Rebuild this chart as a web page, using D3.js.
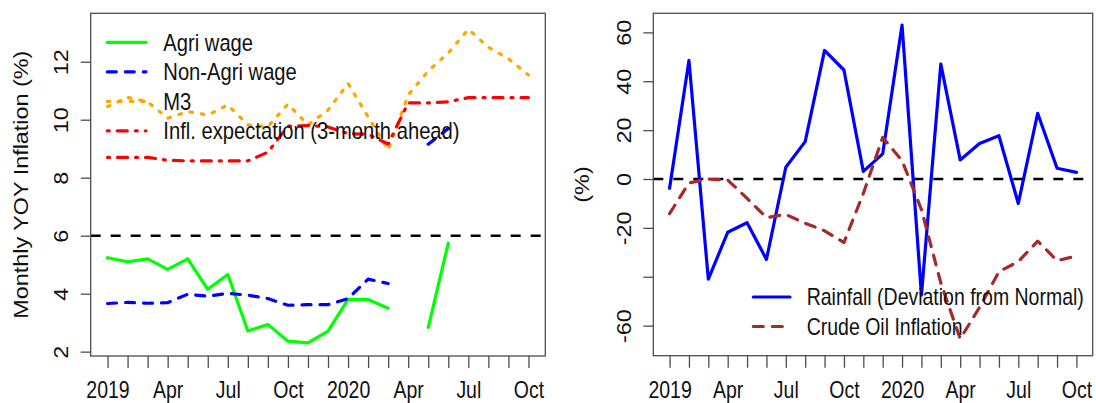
<!DOCTYPE html>
<html>
<head>
<meta charset="utf-8">
<script src="https://cdn.jsdelivr.net/npm/d3@7"></script>
<style>
  body { margin: 0; background: #fff; }
  svg text { font-family: "Liberation Sans", Arial, sans-serif; font-size: 19.5px; fill: #111; }
</style>
</head>
<body>
<svg id="chart" width="1096" height="403"></svg>
<script>
'use strict';

// Jan 2019 .. Oct 2020
const months = ['Jan 2019', 'Feb 2019', 'Mar 2019', 'Apr 2019', 'May 2019', 'Jun 2019', 'Jul 2019', 'Aug 2019',
    'Sep 2019', 'Oct 2019', 'Nov 2019', 'Dec 2019', 'Jan 2020', 'Feb 2020', 'Mar 2020', 'Apr 2020', 'May 2020',
    'Jun 2020', 'Jul 2020', 'Aug 2020', 'Sep 2020', 'Oct 2020'];
const monthLabels = ['2019', '', '', 'Apr', '', '', 'Jul', '', '', 'Oct', '', '', '2020', '', '', 'Apr', '', '',
    'Jul', '', '', 'Oct'];

// left panel
const agriWage = [5.24, 5.10, 5.20, 4.84, 5.20, 4.15, 4.66, 2.71, 2.94, 2.36, 2.30, 2.71, 3.80, 3.80, 3.50, null,
    2.84, 5.74, null, null, null, null];
const nonAgriWage = [3.66, 3.70, 3.67, 3.69, 3.98, 3.91, 4.01, 3.95, 3.83, 3.60, 3.62, 3.62, 3.83, 4.50, 4.35, null,
    9.15, 9.70, null, null, null, null];
const m3 = [10.45, 10.77, 10.62, 10.05, 10.28, 10.16, 10.51, 9.82, 9.76, 10.54, 9.82, 10.33, 11.25, 10.10, 8.95,
    10.85, 11.68, 12.30, 13.12, 12.50, 12.10, 11.54];
const inflExpectation = [8.70, 8.70, 8.70, 8.60, 8.58, 8.58, 8.58, 8.58, 8.88, 9.78, 9.80, 9.75, 9.52, 9.50, 9.16,
    10.58, 10.58, 10.62, 10.76, 10.76, 10.76, 10.76];
const leftYTicks = [2, 4, 6, 8, 10, 12];
const leftYLabels = ['2', '4', '6', '8', '10', '12'];

// right panel
const rainfall = [-3.8, 48.5, -41.0, -21.8, -17.9, -32.9, 4.8, 15.3, 52.6, 44.6, 3.1, 10.3, 63.0, -47.5, 47.0, 7.8,
    14.5, 17.7, -10.0, 26.9, 4.4, 2.7];
const crudeOil = [-14.2, -1.6, 0, -0.4, -7.9, -15.8, -14.5, -18.1, -21.2, -26.0, -5.9, 17.0, 7.5, -12.5, -42.5,
    -65.4, -52.5, -37.9, -33.8, -25.4, -33.4, -31.5];
const rightYTicks = [-60, -40, -20, 0, 20, 40, 60];
const rightYLabels = ['-60', '', '-20', '0', '20', '40', '60'];

const K = 1.2; // glyphs in the reference are stretched vertically
const svg = d3.select('#chart');

function drawPanel(p)
{
    const x = d3.scaleLinear().domain([-0.84, months.length - 1 + 0.84]).range([p.left, p.right]);
    const y = d3.scaleLinear().domain(p.yDomain).range([p.bottom, p.top]);
    const g = svg.append('g');

    g.append('clipPath').attr('id', p.id + '-clip')
        .append('rect')
        .attr('x', p.left).attr('y', p.top)
        .attr('width', p.right - p.left).attr('height', p.bottom - p.top);

    const plot = g.append('g').attr('clip-path', 'url(#' + p.id + '-clip)');

    plot.append('line')
        .attr('x1', p.left).attr('x2', p.right)
        .attr('y1', y(p.refLine)).attr('y2', y(p.refLine))
        .attr('stroke', '#000').attr('stroke-width', 2.5)
        .attr('stroke-dasharray', '10,10');

    for (const s of p.series)
    {
        const line = d3.line()
            .defined((d) => d != null)
            .x((d, i) => x(i))
            .y((d) => y(d));
        plot.append('path')
            .attr('d', line(s.values))
            .attr('fill', 'none')
            .attr('stroke', s.color).attr('stroke-width', 3.2)
            .attr('stroke-linecap', 'round').attr('stroke-linejoin', 'round')
            .attr('stroke-dasharray', s.dash);
    }

    // axes
    const xAxis = g.append('g')
        .attr('transform', 'translate(0,' + p.bottom + ')')
        .attr('color', '#4d4d4d')
        .call(d3.axisBottom(x).tickValues(d3.range(months.length)).tickSize(12)
            .tickFormat((i) => monthLabels[i]));
    xAxis.select('.domain').remove();
    xAxis.selectAll('line').attr('stroke-width', 1.3);
    xAxis.selectAll('text')
        .attr('y', null).attr('dy', null)
        .attr('text-anchor', 'middle')
        .attr('transform', 'translate(0,' + (397.5 - p.bottom) + ') scale(1,' + K + ')');

    const yAxis = g.append('g')
        .attr('transform', 'translate(' + p.left + ',0)')
        .attr('color', '#4d4d4d')
        .call(d3.axisLeft(y).tickValues(p.yTicks).tickSize(10)
            .tickFormat((v, i) => p.yLabels[i]));
    yAxis.select('.domain').remove();
    yAxis.selectAll('line').attr('stroke-width', 1.3);
    yAxis.selectAll('text')
        .attr('x', null).attr('dy', null)
        .attr('text-anchor', 'middle')
        .attr('transform', 'translate(-22.3,0) scale(1,' + K + ') rotate(-90)');

    g.append('rect')
        .attr('x', p.left).attr('y', p.top)
        .attr('width', p.right - p.left).attr('height', p.bottom - p.top)
        .attr('fill', 'none').attr('stroke', '#4d4d4d').attr('stroke-width', 1.3);

    g.append('text')
        .attr('text-anchor', 'middle')
        .attr('transform', 'translate(' + p.titleX + ',' + ((p.top + p.bottom) / 2) + ') scale(1,' + K + ') rotate(-90)')
        .text(p.title);

    // legend
    p.series.forEach((s, i) =>
    {
        const ly = p.legend.y + i * 29.5;
        g.append('line')
            .attr('x1', p.legend.x0).attr('x2', p.legend.x1)
            .attr('y1', ly).attr('y2', ly)
            .attr('stroke', s.color).attr('stroke-width', 3.2)
            .attr('stroke-linecap', 'round')
            .attr('stroke-dasharray', s.dash);
        g.append('text')
            .attr('transform', 'translate(' + p.legend.tx + ',' + (ly + 8.4) + ') scale(1,' + K + ')')
            .style('font-size', p.legend.size + 'px')
            .text(s.name);
    });
}

drawPanel({
    id: 'left', left: 90.7, right: 545.3, top: 13.3, bottom: 356,
    yDomain: [1.85, 13.67], yTicks: leftYTicks, yLabels: leftYLabels, refLine: 6,
    title: 'Monthly YOY Inflation (%)', titleX: 28.3,
    legend: { x0: 107.3, x1: 146, tx: 163.3, y: 42.3, size: 20.2 },
    series: [
        { name: 'Agri wage', values: agriWage, color: '#00ff00', dash: null },
        { name: 'Non-Agri wage', values: nonAgriWage, color: '#0000ff', dash: '9,9' },
        { name: 'M3', values: m3, color: '#ffa500', dash: '2.5,9' },
        { name: 'Infl. expectation (3-month ahead)', values: inflExpectation, color: '#ff0000', dash: '2,8,10,8' }
    ]
});

drawPanel({
    id: 'right', left: 653.3, right: 1092.7, top: 13.3, bottom: 355.7,
    yDomain: [-72.3, 67.8], yTicks: rightYTicks, yLabels: rightYLabels, refLine: 0,
    title: '(%)', titleX: 589.2,
    legend: { x0: 753.3, x1: 790, tx: 806.7, y: 297, size: 19.5 },
    series: [
        { name: 'Rainfall (Deviation from Normal)', values: rainfall, color: '#0000ff', dash: null },
        { name: 'Crude Oil Inflation', values: crudeOil, color: '#a52a2a', dash: '10,9' }
    ]
});
</script>
</body>
</html>
